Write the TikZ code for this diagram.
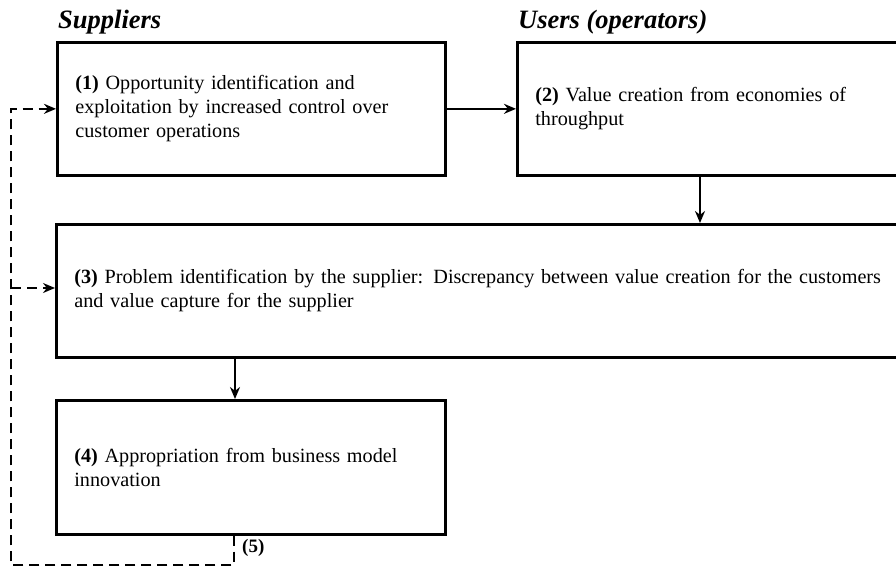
\documentclass[tikz,border=0pt]{standalone}
\usepackage{fontspec}
\setmainfont{Liberation Serif}
\usetikzlibrary{arrows.meta}
\begin{document}
\begin{tikzpicture}[x=1pt,y=-1pt,
  boxs/.style={draw, line width=2.7pt, rectangle, align=left, anchor=north west,
    inner xsep=18pt, inner ysep=0pt, font=\fontsize{20.2}{24}\selectfont},
  title/.style={anchor=base west, inner sep=0pt, font=\fontsize{26.5}{30}\selectfont\bfseries\itshape},
  arr/.style={line width=2.5pt, -{Stealth[length=12pt,width=10pt]}},
  darr/.style={line width=2.5pt, dash pattern=on 10pt off 6pt, -{Stealth[length=12pt,width=10pt]}}]
\useasboundingbox (0,0) rectangle (896,569);
\clip (0,0) rectangle (896,569);
\fill[white] (0,0) rectangle (896,569);

\node[title] (t1) at (58,29) {Suppliers};
\node[title] (t2) at (518,29) {Users (operators)};

\node[boxs, minimum width=388pt, minimum height=133pt, text width=352pt] (b1) at (56,41)
  {\textbf{(1)} Opportunity identification and\\exploitation by increased control over\\customer operations};
\node[boxs, minimum width=400pt, minimum height=133pt, text width=364pt] (b2) at (516,41)
  {\textbf{(2)} Value creation from economies of\\throughput};
\node[boxs, minimum width=860pt, minimum height=133pt, text width=824pt] (b3) at (55,223)
  {\textbf{(3)} Problem identification by the supplier: Discrepancy between value creation for the customers\\and value capture for the supplier};
\node[boxs, minimum width=389pt, minimum height=134pt, text width=353pt] (b4) at (55,399)
  {\textbf{(4)} Appropriation from business model\\innovation};

\coordinate (c2) at (700,0);
\coordinate (c3) at (235,0);
\coordinate (c5) at (234,565);
\coordinate (lx) at (11,0);

\draw[arr] (b1) -- (b2);
\draw[arr] (b2.south -| c2) -- (b3.north -| c2);
\draw[arr] (b3.south -| c3) -- (b4.north -| c3);

\draw[darr] (b4.south -| c5) -- (c5) -| (lx |- b1.west) -- (b1.west);
\draw[darr] (lx |- 0,288) -- (b3.west |- 0,288);

\node[anchor=west, inner sep=0pt, font=\fontsize{19}{22}\selectfont\bfseries] (l5) at (242,548) {(5)};
\end{tikzpicture}
\end{document}
